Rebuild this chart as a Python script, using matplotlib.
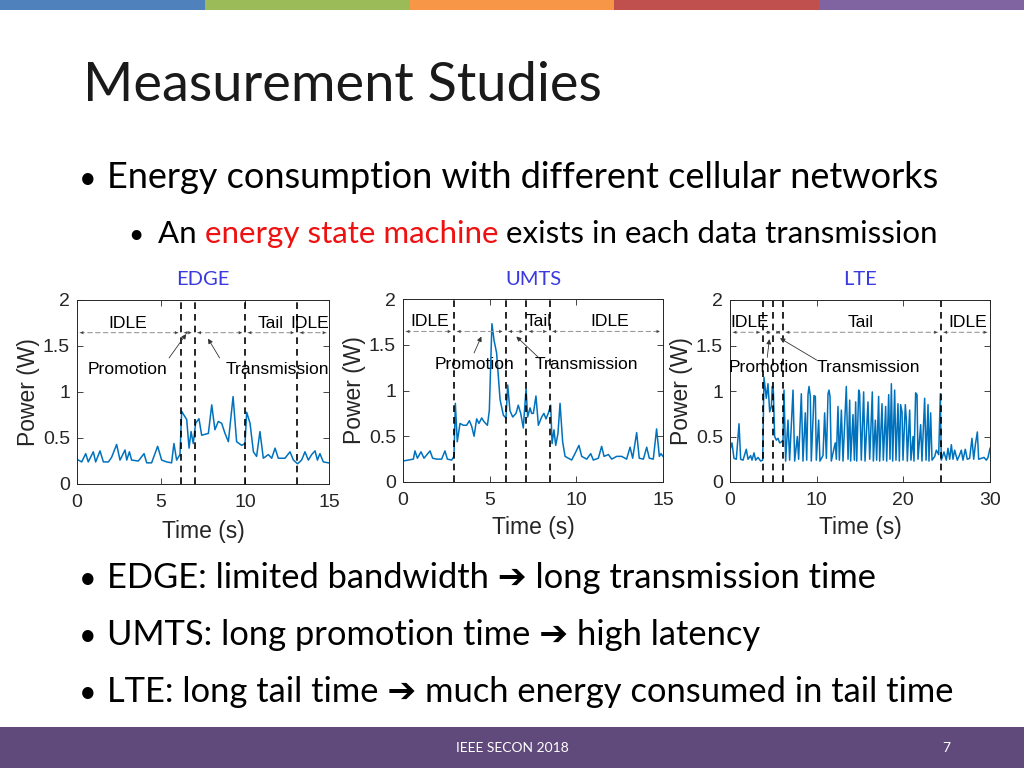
import matplotlib.pyplot as plt
from matplotlib.patches import Rectangle

# power traces (time in s, power in W)
edge_t = [0.08, 0.28, 0.52, 0.67, 0.97, 1.11, 1.37, 1.57, 1.87, 2.06, 2.36, 2.56, 2.86, 2.96,
          3.12, 3.25, 3.65, 3.99, 4.15, 4.44, 4.80, 5.04, 5.34, 5.63, 5.77, 5.93, 6.13, 6.23,
          6.53, 6.67, 6.79, 6.92, 7.06, 7.26, 7.42, 7.82, 8.02, 8.21, 8.41, 8.61, 8.81, 9.01,
          9.29, 9.50, 9.80, 10.00, 10.10, 10.30, 10.50, 10.69, 10.89, 11.09, 11.39, 11.59,
          11.79, 11.98, 12.38, 12.68, 12.88, 13.13, 13.37, 13.57, 13.77, 13.97, 14.17, 14.31,
          14.46, 14.66, 14.96]
edge_p = [0.26, 0.24, 0.33, 0.24, 0.35, 0.24, 0.36, 0.24, 0.24, 0.29, 0.43, 0.26, 0.37, 0.26,
          0.35, 0.26, 0.25, 0.33, 0.23, 0.23, 0.41, 0.26, 0.24, 0.23, 0.44, 0.26, 0.32, 0.79,
          0.70, 0.39, 0.57, 0.44, 0.66, 0.71, 0.53, 0.55, 0.86, 0.59, 0.68, 0.66, 0.55, 0.46,
          0.95, 0.46, 0.42, 0.44, 0.78, 0.66, 0.35, 0.30, 0.57, 0.28, 0.32, 0.28,
          0.39, 0.28, 0.28, 0.35, 0.26, 0.22, 0.26, 0.35, 0.26, 0.32, 0.36, 0.26,
          0.33, 0.24, 0.23]

umts_t = [0.02, 0.31, 0.60, 0.69, 0.83, 1.04, 1.21, 1.56, 1.71, 1.94, 2.23, 2.42, 2.56, 2.81,
          2.94, 3.02, 3.13, 3.29, 3.48, 3.67, 3.83, 3.96, 4.10, 4.25, 4.38, 4.54, 4.67, 4.87,
          4.98, 5.13, 5.25, 5.40, 5.60, 5.79, 5.94, 6.04, 6.17, 6.33, 6.52, 6.65, 6.79, 6.94,
          7.10, 7.19, 7.33, 7.42, 7.52, 7.67, 7.81, 8.00, 8.13, 8.25, 8.38, 8.52, 8.60, 8.71,
          8.81, 8.94, 9.06, 9.21, 9.35, 9.54, 9.73, 9.92, 10.15, 10.31, 10.60, 10.83, 10.98,
          11.27, 11.46, 11.60, 11.85, 12.04, 12.33, 12.62, 12.90, 13.10, 13.25, 13.48, 13.63,
          13.87, 14.06, 14.21, 14.44, 14.63, 14.79, 14.88, 15.0]
umts_p = [0.23, 0.24, 0.25, 0.34, 0.26, 0.33, 0.26, 0.34, 0.26, 0.25, 0.25, 0.34, 0.25, 0.24,
          0.28, 0.86, 0.44, 0.64, 0.62, 0.62, 0.67, 0.61, 0.50, 0.69, 0.64, 0.70, 0.66, 0.62,
          0.78, 1.73, 1.55, 1.41, 0.90, 0.73, 0.70, 1.06, 0.78, 0.71, 0.75, 0.84, 0.75, 0.59,
          1.02, 0.71, 0.81, 0.75, 0.75, 0.94, 0.62, 0.71, 0.75, 0.69, 0.75, 0.84, 0.42, 0.57,
          0.40, 0.53, 0.86, 0.44, 0.28, 0.26, 0.24, 0.31, 0.40, 0.28, 0.25, 0.31, 0.24,
          0.26, 0.39, 0.28, 0.30, 0.25, 0.28, 0.28, 0.25, 0.38, 0.26, 0.54, 0.26,
          0.25, 0.38, 0.26, 0.25, 0.58, 0.28, 0.31, 0.28]

lte_t = [0.00, 0.23, 0.46, 0.73, 1.04, 1.23, 1.50, 1.88, 2.08, 2.38, 2.54, 2.77, 2.96, 3.23,
         3.54, 3.77, 3.92, 4.19, 4.38, 4.58, 4.77, 4.88, 5.00, 5.15, 5.35, 5.54, 5.73, 5.92,
         6.12, 6.23, 6.42, 6.69, 6.88, 7.27, 7.46, 7.77, 7.92, 8.23, 8.42, 8.69, 8.85, 9.00,
         9.12, 9.27, 9.38, 9.69, 9.85, 9.96, 10.23, 10.38, 10.73, 10.92, 11.12, 11.31, 11.42,
         11.54, 11.69, 12.00, 12.15, 12.27, 12.46, 12.62, 12.85, 13.04, 13.42, 13.62, 13.81,
         13.92, 14.19, 14.35, 14.50, 14.62, 14.85, 14.96, 15.15, 15.42, 15.58, 15.92, 16.12,
         16.42, 16.54, 16.77, 16.92, 17.15, 17.27, 17.54, 17.69, 17.96, 18.08, 18.31, 18.46,
         18.62, 18.77, 19.00, 19.15, 19.38, 19.54, 19.69, 19.85, 19.96, 20.23, 20.35, 20.46,
         20.73, 20.88, 21.12, 21.23, 21.42, 21.58, 21.69, 22.00, 22.15, 22.46, 22.62, 22.85,
         22.96, 23.15, 23.31, 23.62, 23.81, 24.08, 24.27, 24.38, 24.69, 24.96, 25.15, 25.35,
         25.54, 25.73, 25.92, 26.23, 26.50, 26.69, 26.88, 27.15, 27.38, 27.65, 27.92, 28.12,
         28.31, 28.54, 28.69, 29.00, 29.31, 29.58, 29.77, 30.00]
lte_p = [0.35, 0.43, 0.26, 0.25, 0.64, 0.25, 0.24, 0.36, 0.25, 0.29, 0.24, 0.32, 0.24, 0.27,
         0.23, 0.24, 1.15, 0.92, 1.08, 0.77, 0.83, 1.05, 1.01, 0.50, 0.46, 0.48, 0.43, 0.44,
         0.46, 1.01, 0.23, 0.68, 0.24, 1.01, 0.23, 0.50, 0.25, 0.97, 0.23, 0.76, 0.24, 0.96,
         1.05, 0.94, 0.23, 0.95, 0.94, 0.24, 0.68, 0.23, 0.29, 0.76, 0.26, 0.97, 1.01,
         0.94, 0.23, 0.37, 0.43, 0.25, 0.83, 0.24, 0.79, 0.23, 1.05, 0.25, 0.90,
         0.23, 0.74, 0.24, 0.88, 0.23, 1.01, 0.97, 0.24, 0.99, 0.23, 0.88, 0.25,
         0.99, 0.23, 0.68, 0.24, 0.94, 0.23, 0.86, 0.24, 0.83, 0.23, 0.96, 0.25,
         1.08, 0.23, 1.01, 0.24, 0.86, 0.23, 0.85, 0.77, 0.24, 0.85, 0.68, 0.23,
         0.79, 0.24, 0.50, 0.23, 0.98, 0.96, 0.25, 0.63, 0.23, 0.92, 0.24, 0.85,
         0.23, 0.76, 0.24, 0.28, 0.35, 0.30, 0.97, 0.24, 0.33, 0.24, 0.37, 0.25,
         0.41, 0.25, 0.35, 0.24, 0.30, 0.35, 0.24, 0.36, 0.25, 0.26, 0.48, 0.25,
         0.41, 0.55, 0.25, 0.26, 0.27, 0.24, 0.27, 0.37]

# state boundaries (dashed lines), s
edge_bounds = [6.2, 7.0, 10.0, 13.1]
umts_bounds = [2.95, 5.92, 7.1, 8.46]
lte_bounds = [3.8, 5.0, 6.1, 24.3]

names = ['EDGE', 'UMTS', 'LTE']
xmaxes = [15, 15, 30]
xticks = [[0, 5, 10, 15], [0, 5, 10, 15], [0, 10, 20, 30]]
yticks = [0, 0.5, 1, 1.5, 2]
ytick_labels = ['0', '0.5', '1', '1.5', '2']

# state name labels above the arrows
state_labels = [
    [('IDLE', 3.0), ('Tail', 11.5), ('IDLE', 13.85)],
    [('IDLE', 1.54), ('Tail', 7.8), ('IDLE', 11.9)],
    [('IDLE', 2.3), ('Tail', 15.1), ('IDLE', 27.4)],
]
# (text x, text y, arrow tail, arrow head) for Promotion / Transmission
pointers = [
    [(3.0, 1.25, (5.48, 1.37), (6.5, 1.63)), (11.9, 1.25, (8.49, 1.37), (7.8, 1.58))],
    [(4.15, 1.28, (4.1, 1.41), (4.52, 1.59)), (10.58, 1.28, (7.88, 1.35), (6.54, 1.59))],
    [(4.5, 1.26, (4.3, 1.37), (4.54, 1.57)), (16.0, 1.26, (10.0, 1.34), (5.77, 1.58))],
]

W, H = 1024, 768
fig = plt.figure(figsize=(W / 100, H / 100), dpi=100)

# slide background layer in pixel coords
bg = fig.add_axes([0, 0, 1, 1])
bg.set_xlim(0, W)
bg.set_ylim(H, 0)
bg.axis('off')

bar_cols = ['#4F81BD', '#9BBB59', '#F79646', '#C0504D', '#8064A2']
for i, c in enumerate(bar_cols):
    bg.add_patch(Rectangle((i * W / 5, 0), W / 5, 10, color=c, lw=0))
bg.add_patch(Rectangle((0, 727), W, 41, color='#604A7B', lw=0))

slide_font = ['Lato', 'DejaVu Sans']
bg.text(83, 101, 'Measurement Studies', fontsize=39, family=slide_font,
        fontweight='normal', color='#1a1a1a', va='baseline')

def bullet(x, y, size):
    bg.text(x, y, '\u2022', fontsize=size, family=slide_font, va='baseline', ha='center')

bullet(88, 188, 22)
bg.text(107, 188, 'Energy consumption with different cellular networks',
        fontsize=26, family=slide_font, va='baseline')

bullet(136, 243, 19)
t1 = bg.text(158, 243, 'An ', fontsize=22.5, family=slide_font, va='baseline')
t2 = bg.annotate('energy state machine', xycoords=t1, xy=(1, 0), va='bottom',
                 fontsize=22.5, family=slide_font, color='#EE1111')
bg.annotate(' exists in each data transmission', xycoords=t2, xy=(1, 0), va='bottom',
            fontsize=22.5, family=slide_font)

bottom_lines = ['EDGE: limited bandwidth \u2794 long transmission time',
                'UMTS: long promotion time \u2794 high latency',
                'LTE: long tail time \u2794 much energy consumed in tail time']
for k, s in enumerate(bottom_lines):
    y = 588 + k * 57
    bullet(88, y, 22)
    bg.text(107, y, s, fontsize=24.8, family=slide_font, va='baseline')

bg.text(512, 752, 'IEEE SECON 2018', fontsize=10, family=slide_font, color='white',
        ha='center', va='baseline')
bg.text(946, 752, '7', fontsize=10, family=slide_font, color='white',
        ha='center', va='baseline')

# the three measurement panels
boxes = [[77, 300, 329, 484], [403, 299, 663, 482], [730, 300, 990, 482]]
traces = [(edge_t, edge_p), (umts_t, umts_p), (lte_t, lte_p)]
bounds = [edge_bounds, umts_bounds, lte_bounds]
axc = '#262626'
plot_font = 'Liberation Sans'

for i in range(3):
    l, t, r, b = boxes[i]
    ax = fig.add_axes([l / W, 1 - b / H, (r - l) / W, (b - t) / H])
    xm = xmaxes[i]
    ax.plot(traces[i][0], traces[i][1], color='#0072BD', lw=1.1)
    for xb in bounds[i]:
        ax.axvline(xb, color='black', ls=(0, (4, 3)), lw=1.2)

    # double arrows for the states
    edges = [0] + bounds[i] + [xm]
    gap = 0.012 * xm
    for a, c in zip(edges[:-1], edges[1:]):
        ax.annotate('', xy=(c - gap, 1.645), xytext=(a + gap, 1.645),
                    arrowprops=dict(arrowstyle='-', ls=(0, (4, 3)), color='0.6',
                                    lw=0.8, shrinkA=0, shrinkB=0))
        ax.annotate('', xy=(c - gap, 1.645), xytext=(a + gap, 1.645),
                    arrowprops=dict(arrowstyle='<|-|>', ls='-', color='#444444', lw=0,
                                    mutation_scale=6, shrinkA=0, shrinkB=0))
    for s, x in state_labels[i]:
        ax.text(x, 1.75, s, ha='center', va='center', fontsize=12.6, family=plot_font)
    for (tx, ty, tail, head), s in zip(pointers[i], ['Promotion', 'Transmission']):
        ax.text(tx, ty, s, ha='center', va='center', fontsize=12.6, family=plot_font,
                clip_on=False)
        ax.annotate('', xy=head, xytext=tail,
                    arrowprops=dict(arrowstyle='-|>', color='#333333', lw=0.6,
                                    mutation_scale=7, shrinkA=0, shrinkB=0))

    ax.set_xlim(0, xm)
    ax.set_ylim(0, 2)
    ax.set_xticks(xticks[i])
    ax.set_yticks(yticks)
    ax.set_yticklabels(ytick_labels)
    ax.tick_params(direction='in', top=True, right=True, length=4, width=0.6,
                   labelsize=14, colors=axc, pad=5)
    ax.tick_params(axis='x', pad=7)
    for lab in ax.get_xticklabels() + ax.get_yticklabels():
        lab.set_family(plot_font)
    for sp in ax.spines.values():
        sp.set_color(axc)
        sp.set_linewidth(0.7)
    ax.set_xlabel('Time (s)', fontsize=16.5, family=plot_font, color=axc,
                  labelpad=7 if i == 0 else 5)
    ax.set_ylabel('Power (W)', fontsize=16.5, family=plot_font, color=axc, labelpad=2)

    bg.text((l + r) / 2, 285, names[i], ha='center', va='baseline', fontsize=14.5,
            family=slide_font, color='#3A3AE0')

fig.savefig('out.png', dpi=100)
